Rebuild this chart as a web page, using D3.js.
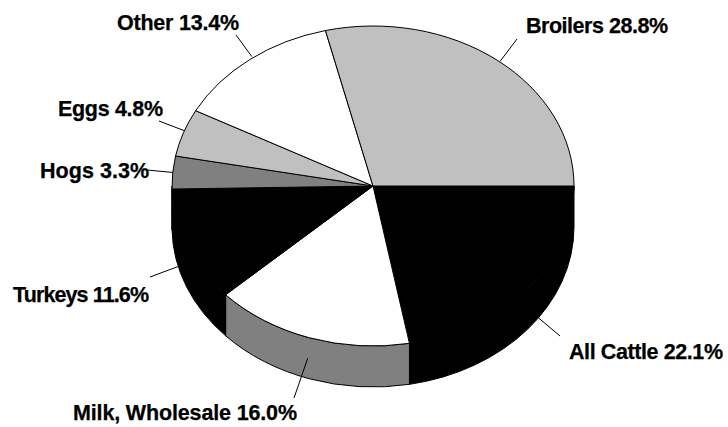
<!DOCTYPE html>
<html>
<head>
<meta charset="utf-8">
<script src="https://cdnjs.cloudflare.com/ajax/libs/d3/7.8.5/d3.min.js"></script>
<style>
    html, body { margin: 0; padding: 0; background: #fff; }
    svg { display: block; }
    .slice { stroke: #000; stroke-width: 1; vector-effect: non-scaling-stroke; }
    .wall { stroke: #000; stroke-width: 1; stroke-linejoin: round; }
    .leader { stroke: #000; stroke-width: 1; fill: none; }
    .label { font-family: "Liberation Sans", Arial, sans-serif; font-weight: bold; font-size: 21.5px; fill: #000; stroke: #000; stroke-width: 0.25; }
</style>
</head>
<body>
<svg width="728" height="427"></svg>
<script>
// clockwise from 3 o'clock, same order as the original
const categories = ['All Cattle', 'Milk, Wholesale', 'Turkeys', 'Hogs', 'Eggs', 'Other', 'Broilers'];
const shares = [22.1, 16.0, 11.6, 3.3, 4.8, 13.4, 28.8];
const topColors = ['#000000', '#ffffff', '#000000', '#808080', '#c0c0c0', '#ffffff', '#c0c0c0'];
const wallColors = ['#000000', '#808080', '#000000', '#808080', '#c0c0c0', '#ffffff', '#c0c0c0'];

// label placement: left x, baseline, width of the squeezed text
const labelPos = [[569, 359], [73, 420], [13, 302], [40, 178], [58, 116], [117, 30], [526, 33]];
const labelWidth = [154, 224, 136, 109, 105, 122, 142];
// leader: nudge from the slice's mid point, then where it ends
const leaderNudge = [[11, 9], [-2, 0], [-8, 0], [0, 0], [1, -2], [2, -3], [3, 1]];
const leaderEnd = [[560, 336], [294, 398], [150, 277], [147, 170], [159, 121], [236, 35], [517, 39]];

const svg = d3.select('svg');

const cx = 373;
const cy = 186;
const rx = 201;
const ry = 160;
const depth = 41;

const startAngle = Math.PI / 2;
const pie = d3.pie().sort(null).startAngle(startAngle).endAngle(startAngle + 2 * Math.PI);
const slices = pie(shares);

const onRim = a => [cx + rx * Math.sin(a), cy - ry * Math.cos(a)];

// the side of the pie only shows on the lower half
const wallPath = d => {
    const a0 = Math.max(d.startAngle, Math.PI / 2);
    const a1 = Math.min(d.endAngle, 3 * Math.PI / 2);
    if (a1 <= a0) return null;
    const p0 = onRim(a0);
    const p1 = onRim(a1);
    return `M${p0[0]},${p0[1]}A${rx},${ry} 0 0 1 ${p1[0]},${p1[1]}` +
        `L${p1[0]},${p1[1] + depth}A${rx},${ry} 0 0 0 ${p0[0]},${p0[1] + depth}Z`;
};

svg.append('g').selectAll('path')
    .data(slices.filter(wallPath))
    .enter().append('path')
    .attr('class', 'wall')
    .attr('d', wallPath)
    .attr('fill', d => wallColors[d.index]);

const arc = d3.arc().innerRadius(0).outerRadius(rx);

svg.append('g')
    .attr('transform', `translate(${cx},${cy}) scale(1,${ry / rx})`)
    .selectAll('path')
    .data(slices)
    .enter().append('path')
    .attr('class', 'slice')
    .attr('d', arc)
    .attr('fill', d => topColors[d.index]);

svg.append('g').selectAll('line')
    .data(slices)
    .enter().append('line')
    .attr('class', 'leader')
    .attr('x1', d => {
        const mid = (d.startAngle + d.endAngle) / 2;
        return onRim(mid)[0] + leaderNudge[d.index][0];
    })
    .attr('y1', d => {
        const mid = (d.startAngle + d.endAngle) / 2;
        const drop = Math.cos(mid) < 0 ? depth / 2 : 0;
        return onRim(mid)[1] + drop + leaderNudge[d.index][1];
    })
    .attr('x2', d => leaderEnd[d.index][0])
    .attr('y2', d => leaderEnd[d.index][1]);

svg.append('g').selectAll('text')
    .data(slices)
    .enter().append('text')
    .attr('class', 'label')
    .attr('x', d => labelPos[d.index][0])
    .attr('y', d => labelPos[d.index][1])
    .attr('textLength', d => labelWidth[d.index])
    .attr('lengthAdjust', 'spacing')
    .text(d => `${categories[d.index]} ${d.data.toFixed(1)}%`);
</script>
</body>
</html>
